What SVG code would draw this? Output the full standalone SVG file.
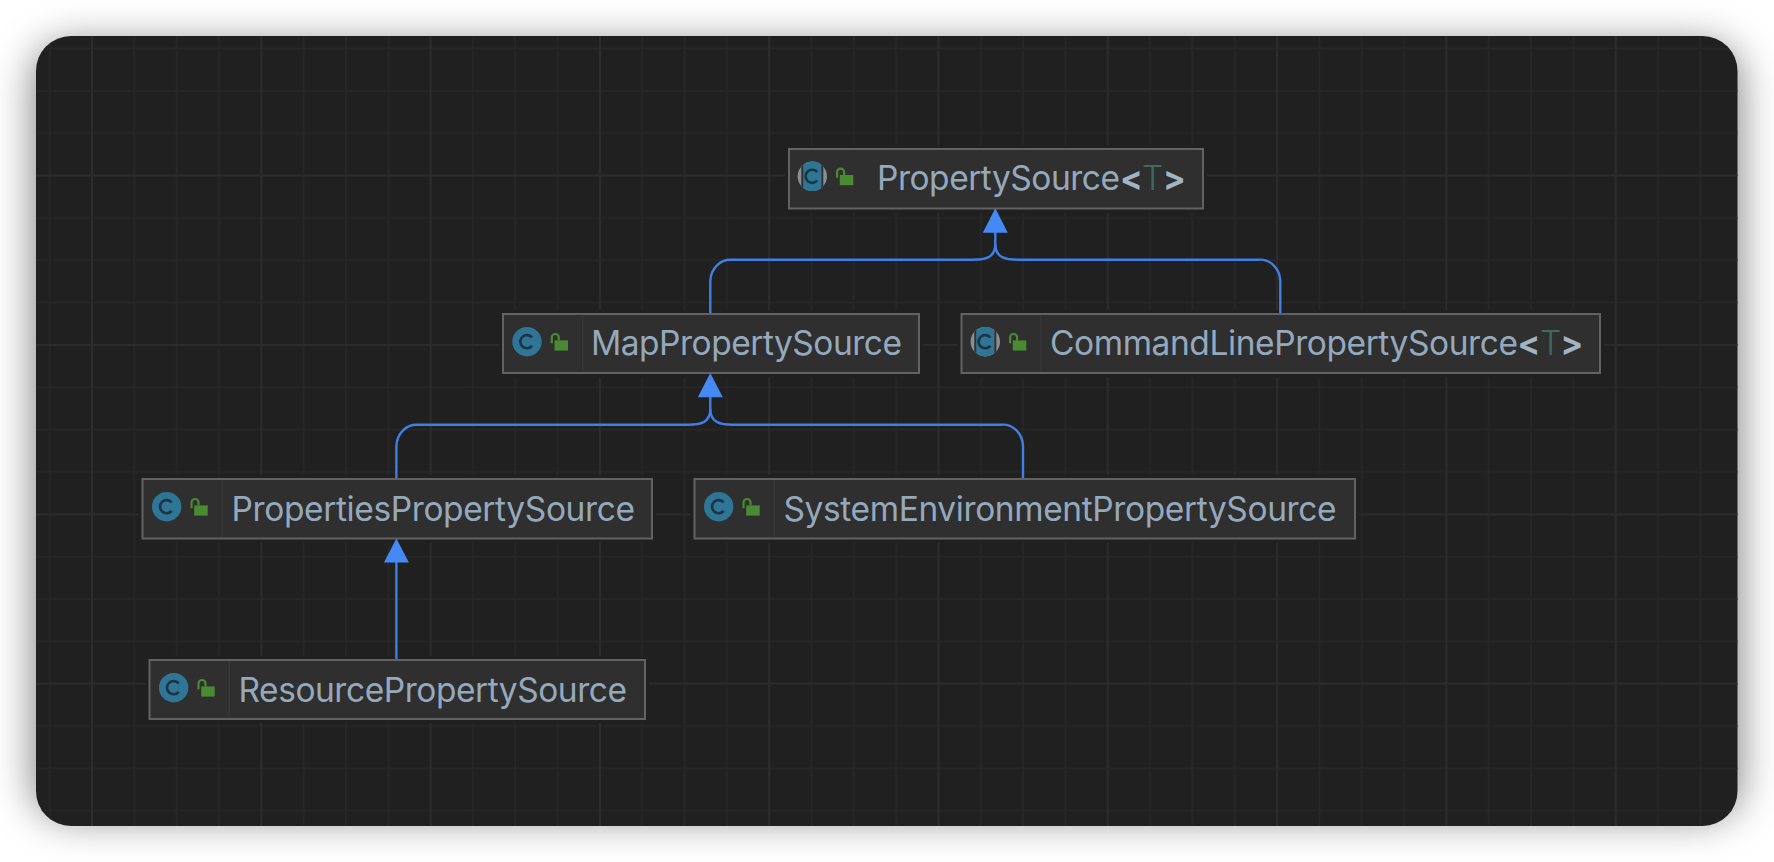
<svg xmlns="http://www.w3.org/2000/svg" width="1774" height="862" viewBox="0 0 1774 862">
<style>
.box{fill:#2f2f2f;stroke:#626262;stroke-width:2}
.halo{fill:#202020}
.sep{stroke:#373737;stroke-width:1.5}
.lbl{font-family:"Inter","Liberation Sans",sans-serif;font-size:33.5px;fill:#95a9bd;font-weight:400}
.br{font-weight:700;fill:#a3b3c2}
.tp{fill:#3e6a5f;font-weight:300}
.edge{fill:none;stroke:#3f7fe6;stroke-width:2.4}
.head{fill:#4589f5}
</style>
<defs>
<filter id="sh" x="-10%" y="-20%" width="120%" height="140%"><feGaussianBlur stdDeviation="20"/></filter>
<pattern id="grid" patternUnits="userSpaceOnUse" x="91" y="174.5" width="169.3" height="169.4">
<path d="M43.3 0V169.4M85.6 0V169.4M128 0V169.4M0 43.3H169.3M0 85.7H169.3M0 128H169.3" stroke="#272727" stroke-width="1.6" fill="none"/>
<path d="M1 0V169.4M0 1H169.3" stroke="#2c2c2c" stroke-width="2" fill="none"/>
</pattern>
<clipPath id="disc"><circle r="14.7"/></clipPath>
<g id="lock">
<rect x="27.5" y="-1.3" width="13.5" height="10.2" fill="#4a8a32"/>
<path d="M24.8 1.5V-4.2a3.5 3.5 0 0 1 7 0V-1.3" fill="none" stroke="#4a8a32" stroke-width="2.2"/>
</g>
<g id="cls">
<circle r="14.7" fill="#2e7596"/>
<path d="M5 -4.2A6.6 6.6 0 1 0 5 4.2" fill="none" stroke="#1d3442" stroke-width="2.6"/>
<use href="#lock"/>
</g>
<g id="abs">
<circle r="14.7" fill="#8b8f93"/>
<g clip-path="url(#disc)"><rect x="-11" y="-15" width="2.5" height="30" fill="#2d2f31"/><rect x="-9" y="-15" width="18" height="30" fill="#2e7596"/><rect x="9" y="-15" width="2" height="30" fill="#2d2f31"/></g>
<path d="M5 -4.2A6.6 6.6 0 1 0 5 4.2" fill="none" stroke="#1d3442" stroke-width="2.6"/>
<use href="#lock"/>
</g>
</defs>
<rect width="1774" height="862" fill="#ffffff"/>
<rect x="34" y="44" width="1705.5" height="774" rx="35" fill="#000" fill-opacity=".5" filter="url(#sh)"/>
<rect x="36" y="36" width="1701.5" height="790" rx="35" fill="#202020"/>
<rect x="36" y="36" width="1701.5" height="790" rx="35" fill="url(#grid)"/>
<g id="node-PropertySource">
<rect class="halo" x="785" y="145" width="422" height="68"/>
<rect class="box" x="789" y="149" width="414" height="59.5"/>
<use href="#abs" x="812.3" y="176.3"/>
<text class="lbl" x="877" y="190" textLength="243">PropertySource</text>
<text class="lbl br" x="1120" y="190">&lt;</text>
<text class="lbl tp" x="1142" y="190">T</text>
<text class="lbl br" x="1163" y="190">&gt;</text>
</g>
<g id="node-MapPropertySource">
<rect class="halo" x="499" y="310" width="424" height="67.5"/>
<rect class="box" x="503" y="314" width="416" height="59"/>
<line class="sep" x1="582.7" y1="315" x2="582.7" y2="372"/>
<use href="#cls" x="527" y="341.7"/>
<text class="lbl" x="591" y="355" textLength="311">MapPropertySource</text>
</g>
<g id="node-CommandLinePropertySource">
<rect class="halo" x="957.5" y="310" width="646.5" height="67.5"/>
<rect class="box" x="961.5" y="314" width="638.5" height="59"/>
<line class="sep" x1="1041" y1="315" x2="1041" y2="372"/>
<use href="#abs" x="985.3" y="341.7"/>
<text class="lbl" x="1050" y="355" textLength="468">CommandLinePropertySource</text>
<text class="lbl br" x="1517.5" y="355">&lt;</text>
<text class="lbl tp" x="1540" y="355">T</text>
<text class="lbl br" x="1560.5" y="355">&gt;</text>
</g>
<g id="node-PropertiesPropertySource">
<rect class="halo" x="138.5" y="475" width="517.5" height="67.5"/>
<rect class="box" x="142.5" y="479" width="509.5" height="59.5"/>
<line class="sep" x1="222.3" y1="480" x2="222.3" y2="537"/>
<use href="#cls" x="166.7" y="506.7"/>
<text class="lbl" x="231.5" y="520.7" textLength="403.5">PropertiesPropertySource</text>
</g>
<g id="node-SystemEnvironmentPropertySource">
<rect class="halo" x="690.5" y="475" width="668.5" height="67.5"/>
<rect class="box" x="694.5" y="479" width="660.5" height="59.5"/>
<line class="sep" x1="774.5" y1="480" x2="774.5" y2="537"/>
<use href="#cls" x="718.7" y="506.7"/>
<text class="lbl" x="783.5" y="520.5" textLength="553">SystemEnvironmentPropertySource</text>
</g>
<g id="node-ResourcePropertySource">
<rect class="halo" x="145.5" y="656" width="503.5" height="67"/>
<rect class="box" x="149.5" y="660" width="495.5" height="59"/>
<line class="sep" x1="229.3" y1="661" x2="229.3" y2="718"/>
<use href="#cls" x="173.7" y="687.7"/>
<text class="lbl" x="238.5" y="701.5" textLength="388.5">ResourcePropertySource</text>
</g>
<g id="connectors">
<path class="edge" d="M710.3 313V281A20 22 0 0 1 732 259.8H973C985 259.8 995.3 258 995.3 244V232"/>
<path class="edge" d="M1280.3 313V281A20 22 0 0 0 1258 259.8H1018C1006 259.8 995.3 258 995.3 244"/>
<path class="head" d="M995.3 208.3L1007.8 232.7H982.8Z"/>
<path class="edge" d="M396.4 478V446A20 22 0 0 1 418 424.8H688C700 424.8 710.3 423 710.3 409V397"/>
<path class="edge" d="M1023 478V446A20 22 0 0 0 1001 424.8H733C721 424.8 710.3 423 710.3 409"/>
<path class="head" d="M710.3 373L722.8 397.3H697.8Z"/>
<path class="edge" d="M396.4 659V562"/>
<path class="head" d="M396.4 538.5L408.9 562.5H383.9Z"/>
</g>
</svg>
